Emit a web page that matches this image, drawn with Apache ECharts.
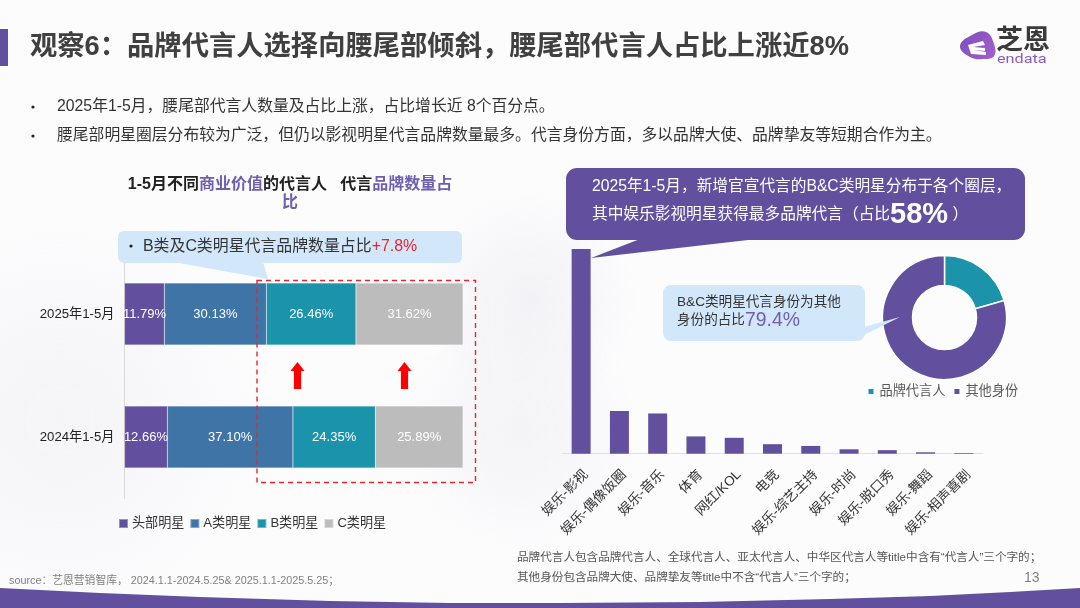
<!DOCTYPE HTML>
<html>

<head>
  <title>观察6</title>
  <meta charset="utf-8" />
  <style>
    html, body { margin: 0; padding: 0; background: #fcfcfd; }
    #main { width: 1080px; height: 608px; }
  </style>
</head>

<body>
  <div id="main"></div>

  <script type="text/javascript" src="https://cdn.jsdelivr.net/npm/echarts@6/dist/echarts.min.js"></script>
  <script type="text/javascript">
    var FONT = '"Liberation Sans", "Noto Sans CJK SC", sans-serif';
    var PURPLE = '#62509f';

    // 左图
    var periods = ['2025年1-5月', '2024年1-5月'];
    var topStar = [11.79, 12.66];
    var aStar = [30.13, 37.10];
    var bStar = [26.46, 24.35];
    var cStar = [31.62, 25.89];

    // 右图
    var circles = ['娱乐-影视', '娱乐-偶像饭圈', '娱乐-音乐', '体育', '网红/KOL', '电竞', '娱乐-综艺主持', '娱乐-时尚', '娱乐-脱口秀', '娱乐-舞蹈', '娱乐-相声喜剧'];
    var circleShare = [58, 12.1, 11.4, 4.9, 4.5, 2.7, 2.2, 1.25, 1.0, 0.4, 0.2];

    // 环形图
    var identityNames = ['品牌代言人', '其他身份'];
    var identityShare = [20.6, 79.4];

    function stackSeries(name, values, color) {
      return {
        name: name,
        type: 'bar',
        stack: 'share',
        barWidth: 62,
        data: values,
        itemStyle: { color: color, borderColor: 'rgba(255,255,255,0.35)', borderWidth: 0.5 },
        label: {
          show: true,
          position: 'inside',
          color: '#fff',
          fontFamily: FONT,
          fontSize: 13,
          formatter: function (p) { return p.value.toFixed(2) + '%'; }
        }
      };
    }

    function txt(x, y, text, size, color, extra) {
      var style = { x: x, y: y, text: text, fontSize: size, fontFamily: FONT, fill: color, verticalAlign: 'middle' };
      for (var k in extra) style[k] = extra[k];
      return { type: 'text', z: 20, style: style };
    }

    function arrow(cx) {
      return {
        type: 'polygon', z: 15,
        shape: { points: [[cx, 362], [cx + 7, 371], [cx + 3.6, 371], [cx + 3.6, 389], [cx - 3.6, 389], [cx - 3.6, 371], [cx - 7, 371]] },
        style: { fill: '#ff0000' }
      };
    }

    function glow(cx, cy, r, alpha) {
      return {
        type: 'circle', z: -10,
        shape: { cx: cx, cy: cy, r: r },
        style: {
          fill: {
            type: 'radial', x: 0.5, y: 0.5, r: 0.5,
            colorStops: [{ offset: 0, color: 'rgba(228,228,236,' + alpha + ')' }, { offset: 1, color: 'rgba(228,228,236,0)' }]
          }
        }
      };
    }

    var graphics = [
      // 背景
      glow(530, 300, 110, 0.4),
      glow(60, 420, 200, 0.3),
      glow(520, 430, 120, 0.35),
      { type: 'polygon', z: 1, shape: { points: [[0, 588], [100, 593], [200, 597], [330, 601], [450, 603], [560, 603], [700, 602], [830, 599], [930, 596], [1010, 592], [1080, 588], [1080, 608], [0, 608]] }, style: { fill: PURPLE } },

      // 标题
      { type: 'rect', z: 5, shape: { x: 0, y: 29, width: 8, height: 37 }, style: { fill: PURPLE } },
      txt(30, 47, '观察6：品牌代言人选择向腰尾部倾斜，腰尾部代言人占比上涨近8%', 27.3, '#404040', { fontWeight: 'bold' }),

      // logo
      {
        type: 'polygon', z: 5,
        shape: { smooth: 0.45, points: [[960, 46], [972, 35], [986, 32], [994, 44], [994, 56], [984, 59], [970, 57]] },
        style: { fill: { type: 'linear', x: 0, y: 0, x2: 1, y2: 1, colorStops: [{ offset: 0, color: '#7a4fc0' }, { offset: 1, color: '#a65fc8' }] } }
      },
      { type: 'polygon', z: 6, shape: { points: [[968, 45], [983, 41], [985, 45], [973, 47], [985, 48], [985, 51], [973, 50], [986, 52], [986, 55], [971, 54]] }, style: { fill: '#fff' } },
      txt(996, 42, '芝恩', 27, '#3a3a3a', { fontWeight: 'bold' }),
      { type: 'text', z: 20, x: 997, y: 60, scaleX: 1.35, style: { x: 0, y: 0, text: 'endata', fontSize: 12, fontFamily: 'Roboto', fill: '#8a5cc0', verticalAlign: 'middle' } },

      // 要点
      { type: 'circle', z: 20, shape: { cx: 33, cy: 107, r: 1.6 }, style: { fill: '#222' } },
      { type: 'circle', z: 20, shape: { cx: 33, cy: 136, r: 1.6 }, style: { fill: '#222' } },
      txt(57, 107, '2025年1-5月，腰尾部代言人数量及占比上涨，占比增长近 8个百分点。', 15.8, '#333'),
      txt(57, 136, '腰尾部明星圈层分布较为广泛，但仍以影视明星代言品牌数量最多。代言身份方面，多以品牌大使、品牌挚友等短期合作为主。', 15.8, '#333'),

      // 左图标题
      {
        type: 'text', z: 20,
        style: {
          x: 290, y: 193.5,
          align: 'center', verticalAlign: 'middle',
          fontFamily: FONT,
          lineHeight: 18,
          rich: {
            b: { fontSize: 16, fontWeight: 'bold', fill: '#222', fontFamily: FONT, lineHeight: 18 },
            p: { fontSize: 16, fontWeight: 'bold', fill: '#6f5fae', fontFamily: FONT, lineHeight: 18 }
          },
          text: '{b|1-5月不同}{p|商业价值}{b|的代言人   代言}{p|品牌数量占}\n{p|比}'
        }
      },

      // 左图浅蓝标注
      { type: 'polygon', z: 12, shape: { points: [[173, 262], [268, 279], [263, 262]] }, style: { fill: '#d3e7fb' } },
      { type: 'rect', z: 12, shape: { x: 118, y: 231, width: 344, height: 32, r: 6 }, style: { fill: '#d3e7fb' } },
      { type: 'circle', z: 20, shape: { cx: 131, cy: 246, r: 1.6 }, style: { fill: '#222' } },
      {
        type: 'text', z: 20,
        style: {
          x: 143, y: 247, verticalAlign: 'middle', fontFamily: FONT,
          rich: {
            b: { fontSize: 15.9, fill: '#333', fontFamily: FONT },
            r: { fontSize: 15.9, fill: '#e8262d', fontFamily: FONT }
          },
          text: '{b|B类及C类明星代言品牌数量占比}{r|+7.8%}'
        }
      },

      // 红框和箭头
      { type: 'rect', z: 14, shape: { x: 257, y: 280.5, width: 218.5, height: 202 }, style: { fill: 'none', stroke: '#e8262d', lineWidth: 1.4, lineDash: [5, 4] } },
      arrow(297.5),
      arrow(404.5),

      // 右图紫色标注
      { type: 'polygon', z: 12, shape: { points: [[640, 239], [591, 258], [757, 239]] }, style: { fill: PURPLE } },
      { type: 'rect', z: 12, shape: { x: 566, y: 168, width: 459, height: 72, r: 11 }, style: { fill: PURPLE } },
      txt(592, 187, '2025年1-5月，新增官宣代言的B&C类明星分布于各个圈层，', 15.7, '#fff'),
      {
        type: 'text', z: 20,
        style: {
          x: 592, y: 215, verticalAlign: 'middle', fontFamily: FONT,
          rich: {
            w: { fontSize: 15.7, fill: '#fff', fontFamily: FONT },
            big: { fontSize: 29, fontWeight: 'bold', fill: '#fff', fontFamily: FONT }
          },
          text: '{w|其中娱乐影视明星获得最多品牌代言（占比}{big|58%}{w| ）}'
        }
      },

      // 环形图标注
      { type: 'polygon', z: 12, shape: { points: [[864, 327], [900, 317], [864, 335]] }, style: { fill: '#d3e7fb' } },
      { type: 'rect', z: 12, shape: { x: 663, y: 285, width: 202, height: 56, r: 8 }, style: { fill: '#d3e7fb' } },
      txt(677, 302.5, 'B&C类明星代言身份为其他', 13.6, '#333'),
      {
        type: 'text', z: 20,
        style: {
          x: 677, y: 320.5, verticalAlign: 'middle', fontFamily: FONT,
          rich: {
            b: { fontSize: 13.6, fill: '#333', fontFamily: FONT },
            p: { fontSize: 19.4, fill: '#6f5fae', fontFamily: FONT }
          },
          text: '{b|身份的占比}{p|79.4%}'
        }
      },

      // 脚注
      txt(9, 581, 'source：艺恩营销智库， 2024.1.1-2024.5.25& 2025.1.1-2025.5.25；', 10.8, '#808080'),
      txt(517, 558, '品牌代言人包含品牌代言人、全球代言人、亚太代言人、中华区代言人等title中含有“代言人”三个字的；', 11.6, '#555'),
      txt(517, 578, '其他身份包含品牌大使、品牌挚友等title中不含“代言人”三个字的；', 11.6, '#555'),
      txt(1024, 578, '13', 14, '#808080')
    ];

    var myChart = echarts.init(document.getElementById('main'), null, { renderer: 'canvas' });

    myChart.setOption({
      animation: false,
      backgroundColor: 'transparent',
      textStyle: { fontFamily: FONT },
      graphic: graphics,
      legend: [
        {
          data: ['头部明星', 'A类明星', 'B类明星', 'C类明星'],
          left: 118,
          top: 517,
          icon: 'rect',
          itemWidth: 9,
          itemHeight: 9,
          itemGap: 5,
          textStyle: { fontSize: 13.1, color: '#333', fontFamily: FONT, padding: [0, 0, 0, -1] },
          padding: 0
        },
        {
          data: identityNames,
          left: 866.5,
          top: 385,
          icon: 'rect',
          itemWidth: 7,
          itemHeight: 7,
          itemGap: 7,
          textStyle: { fontSize: 13.2, color: '#595959', fontFamily: FONT },
          padding: 0
        }
      ],
      grid: [
        { left: 124.5, top: 252.5, width: 338.5, height: 246 },
        { left: 562, top: 249, width: 421, height: 204.7 }
      ],
      xAxis: [
        { type: 'value', gridIndex: 0, min: 0, max: 100, show: false },
        {
          type: 'category',
          gridIndex: 1,
          data: circles,
          axisTick: { show: false },
          axisLine: { lineStyle: { color: '#e0e0e0' } },
          axisLabel: { interval: 0, rotate: 45, fontSize: 13.5, color: '#333', fontFamily: FONT, margin: 14, verticalAlign: 'top' }
        }
      ],
      yAxis: [
        {
          type: 'category',
          gridIndex: 0,
          inverse: true,
          data: periods,
          axisTick: { show: false },
          axisLine: { lineStyle: { color: '#d9d9d9' } },
          axisLabel: { fontSize: 13.2, color: '#222', fontFamily: FONT, margin: 10 }
        },
        { type: 'value', gridIndex: 1, min: 0, max: 58, show: false }
      ],
      series: [
        stackSeries('头部明星', topStar, PURPLE),
        stackSeries('A类明星', aStar, '#3f74a6'),
        stackSeries('B类明星', bStar, '#1a93ab'),
        stackSeries('C类明星', cStar, '#bcbcbc'),
        {
          type: 'bar',
          xAxisIndex: 1,
          yAxisIndex: 1,
          barWidth: 19,
          data: circleShare,
          itemStyle: { color: PURPLE }
        },
        {
          type: 'pie',
          center: [944.5, 317.5],
          radius: [32, 62],
          startAngle: 90,
          label: { show: false },
          labelLine: { show: false },
          itemStyle: { borderColor: '#fff', borderWidth: 1.5 },
          data: [
            { name: identityNames[0], value: identityShare[0], itemStyle: { color: '#1a93ab' } },
            { name: identityNames[1], value: identityShare[1], itemStyle: { color: PURPLE } }
          ]
        }
      ]
    });
  </script>
</body>

</html>
